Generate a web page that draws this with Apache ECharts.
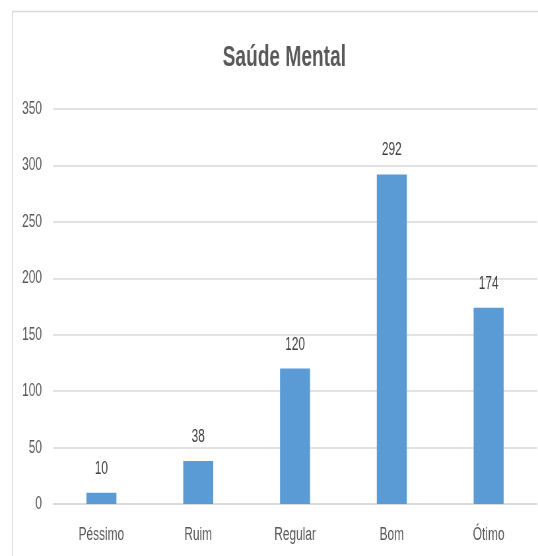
<!DOCTYPE html>
<html>
<head>
<meta charset="utf-8">
<script src="https://cdn.jsdelivr.net/npm/echarts@6/dist/echarts.min.js"></script>
<style>
  html, body { margin: 0; padding: 0; background: #ffffff; overflow: hidden; }
  /* The chart is laid out wide and squeezed horizontally to get the tall, narrow lettering */
  #chart { width: 815px; height: 556px; transform: scaleX(0.66012); transform-origin: 0 0; }
</style>
</head>
<body>
<div id="chart"></div>
<script>
// Respostas sobre saúde mental
var categories = ['Péssimo', 'Ruim', 'Regular', 'Bom', 'Ótimo'];
var values = [10, 38, 120, 292, 174];
var yTicks = [0, 50, 100, 150, 200, 250, 300, 350];

var FONT = "'Liberation Sans', Arial, sans-serif";
var SX = 0.66012; // horizontal squeeze applied to the container

var chart = echarts.init(document.getElementById('chart'), null, { renderer: 'canvas' });

chart.setOption({
  backgroundColor: '#ffffff',
  animation: false,
  title: {
    text: 'Saúde Mental',
    left: 281 / SX,
    top: 38,
    textAlign: 'center',
    textStyle: {
      fontFamily: FONT,
      fontSize: 29,
      fontWeight: 'bold',
      color: '#595959'
    }
  },
  graphic: [{
    type: 'rect',
    shape: { x: 12.5 / SX, y: 11.5, width: 900, height: 600 },
    style: { fill: 'none', stroke: '#d9d9d9', lineWidth: 1.5 },
    silent: true,
    z: -1
  }],
  grid: {
    left: 53 / SX,
    right: 1.5,
    top: 109,
    bottom: 52,
    containLabel: false
  },
  xAxis: {
    type: 'category',
    data: categories,
    axisTick: { show: false },
    axisLine: { lineStyle: { color: '#d9d9d9', width: 1.5 } },
    axisLabel: {
      margin: 22,
      fontFamily: FONT,
      fontSize: 18,
      color: '#595959'
    }
  },
  yAxis: {
    type: 'value',
    min: yTicks[0],
    max: yTicks[yTicks.length - 1],
    interval: yTicks[1] - yTicks[0],
    axisLine: { show: false },
    axisTick: { show: false },
    splitLine: { lineStyle: { color: '#d9d9d9', width: 1.5 } },
    axisLabel: {
      margin: 11 / SX,
      fontFamily: FONT,
      fontSize: 18,
      color: '#595959'
    }
  },
  series: [{
    type: 'bar',
    data: values,
    barWidth: '31%',
    itemStyle: { color: '#5b9bd5' },
    label: {
      show: true,
      position: 'top',
      distance: 15,
      fontFamily: FONT,
      fontSize: 18,
      color: '#404040'
    }
  }]
});
</script>
</body>
</html>
